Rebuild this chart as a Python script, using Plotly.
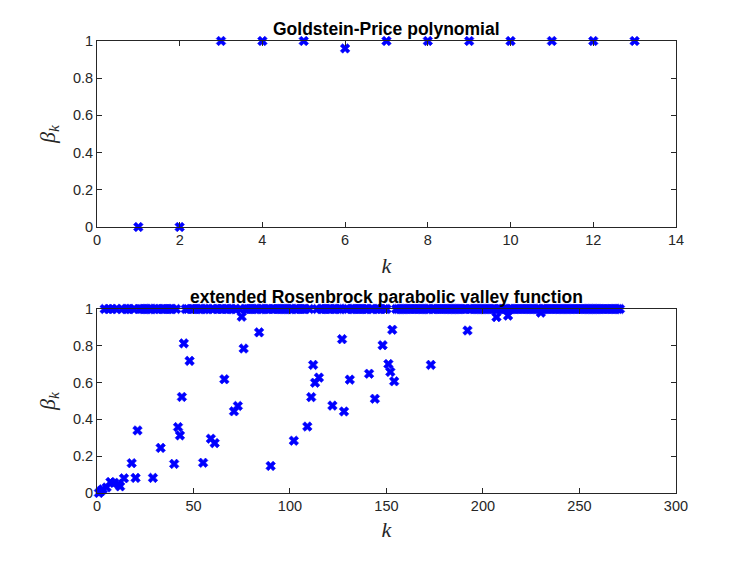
import plotly.graph_objects as go
from plotly.subplots import make_subplots

# top panel: Goldstein-Price polynomial
gp_k = [1, 2, 3, 4, 5, 6, 7, 8, 9, 10, 11, 12, 13]
gp_beta = [0.0, 0.0, 1, 1, 1, 0.96, 1, 1, 1, 1, 1, 1, 1]

# bottom panel: extended Rosenbrock parabolic valley function, k = 1..271
rb_k = list(range(1, 272))
rb_beta = [
    0.0, 0.01, 0.02, 1, 0.03, 1, 0.06, 1, 0.055, 1,
    0.05, 0.036, 1, 0.08, 1, 1, 1, 0.162, 1, 0.082,
    0.34, 1, 1, 1, 1, 1, 1, 1, 0.082, 1,
    1, 1, 0.245, 1, 1, 1, 1, 1, 1, 0.158,
    1, 0.358, 0.313, 0.522, 0.813, 1, 1, 0.718, 1, 1,
    1, 1, 1, 1, 0.164, 1, 1, 1, 0.295, 1,
    0.271, 1, 1, 1, 1, 0.618, 1, 1, 1, 1,
    0.444, 1, 0.473, 1, 0.958, 0.785, 1, 1, 1, 1,
    1, 1, 1, 0.873, 1, 1, 1, 1, 1, 0.147,
    1, 1, 1, 1, 1, 1, 1, 1, 1, 1,
    1, 0.284, 1, 1, 1, 1, 1, 1, 0.361, 1,
    0.521, 0.696, 0.599, 1, 0.627, 1, 1, 1, 1, 1,
    1, 0.475, 1, 1, 1, 1, 0.836, 0.443, 1, 1,
    0.616, 1, 1, 1, 1, 1, 1, 1, 1, 1,
    0.648, 1, 1, 0.512, 1, 1, 1, 0.803, 1, 1,
    0.701, 0.658, 0.887, 0.607, 1, 1, 1, 1, 1, 1,
    1, 1, 1, 1, 1, 1, 1, 1, 1, 1,
    1, 1, 0.696, 1, 1, 1, 1, 1, 1, 1,
    1, 1, 1, 1, 1, 1, 1, 1, 1, 1,
    1, 0.883, 1, 1, 1, 1, 1, 1, 1, 1,
    1, 1, 1, 1, 1, 1, 0.956, 1, 1, 1,
    1, 1, 0.964, 1, 1, 1, 1, 1, 1, 1,
    1, 1, 1, 1, 1, 1, 1, 1, 1, 0.98,
    1, 1, 1, 1, 1, 1, 1, 1, 1, 1,
    1, 1, 1, 1, 1, 1, 1, 1, 1, 1,
    1, 1, 1, 1, 1, 1, 1, 1, 1, 1,
    1, 1, 1, 1, 1, 1, 1, 1, 1, 1,
    1,
]

titles = ["Goldstein-Price polynomial", "extended Rosenbrock parabolic valley function"]

fig = make_subplots(rows=2, cols=1)

marker = dict(symbol="x", size=8.5, color="#0000ff", line=dict(width=0.6, color="#0000ff"))

fig.add_trace(
    go.Scatter(x=gp_k, y=gp_beta, mode="markers", marker=marker, cliponaxis=False),
    row=1, col=1,
)
fig.add_trace(
    go.Scatter(x=rb_k, y=rb_beta, mode="markers", marker=marker, cliponaxis=False),
    row=2, col=1,
)

axis_style = dict(
    showline=True,
    linecolor="#262626",
    linewidth=1,
    mirror="ticks",
    ticks="inside",
    ticklen=5,
    tickcolor="#262626",
    showgrid=False,
    zeroline=False,
    automargin=False,
    tickfont=dict(family="Liberation Sans", size=14.5, color="#262626"),
)
label_font = dict(family="Liberation Serif", size=22, color="#262626")

fig.update_xaxes(axis_style)
fig.update_yaxes(axis_style)

# the page puts the plot 8px in from the top-left corner, domains allow for that
fig.update_layout(
    xaxis=dict(domain=[0.1191, 0.8942], range=[0, 14], tickvals=list(range(0, 15, 2)),
               title=dict(text="<i>k</i>", font=label_font, standoff=10)),
    yaxis=dict(domain=[0.6096, 0.9412], range=[0, 1], tickvals=[0, 0.2, 0.4, 0.6, 0.8, 1],
               title=dict(text="<i>β</i><sub><i>k</i></sub>", font=label_font, standoff=11)),
    xaxis2=dict(domain=[0.1191, 0.8942], range=[0, 300], tickvals=list(range(0, 301, 50)),
                title=dict(text="<i>k</i>", font=label_font, standoff=8)),
    yaxis2=dict(domain=[0.1355, 0.4635], range=[0, 1], tickvals=[0, 0.2, 0.4, 0.6, 0.8, 1],
                title=dict(text="<i>β</i><sub><i>k</i></sub>", font=label_font, standoff=11)),
)

# panel titles
for yref, text in zip(["y domain", "y2 domain"], titles):
    fig.add_annotation(
        text="<b>%s</b>" % text,
        xref="paper", yref=yref,
        x=0.5067, y=1.0, xanchor="center", yanchor="bottom",
        showarrow=False, yshift=0,
        font=dict(family="Liberation Sans", size=17.5, color="black"),
    )

fig.update_layout(
    width=747,
    height=561,
    showlegend=False,
    plot_bgcolor="white",
    paper_bgcolor="white",
    margin=dict(l=0, r=0, t=0, b=0),
)

fig.write_html("out.html")
